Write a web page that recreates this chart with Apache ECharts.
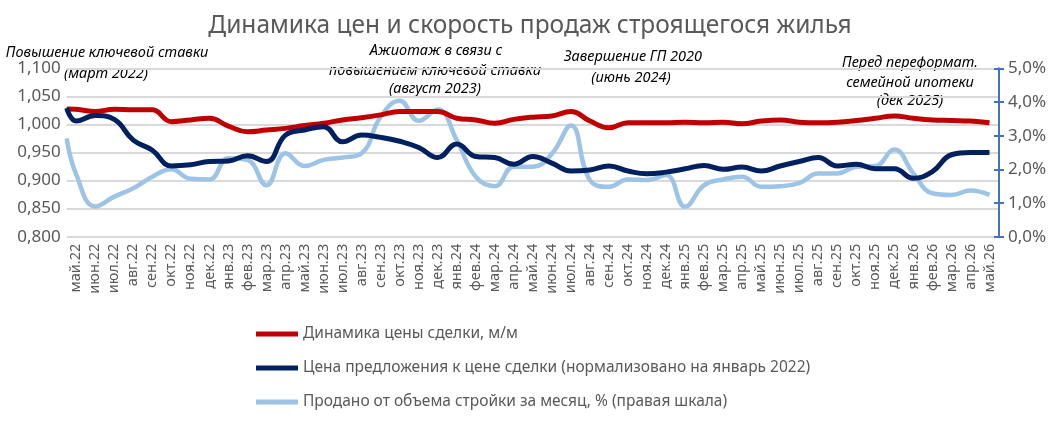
<!DOCTYPE html>
<html>
<head>
<meta charset="utf-8">
<script src="https://cdn.jsdelivr.net/npm/echarts@6/dist/echarts.min.js"></script>
<style>
  html, body { margin: 0; padding: 0; background: #fff; }
  #chart { width: 1060px; height: 421px; }
</style>
</head>
<body>
<div id="chart"></div>
<script>
// months on the category axis
var months = ['май.22','июн.22','июл.22','авг.22','сен.22','окт.22','ноя.22','дек.22',
  'янв.23','фев.23','мар.23','апр.23','май.23','июн.23','июл.23','авг.23','сен.23','окт.23','ноя.23','дек.23',
  'янв.24','фев.24','мар.24','апр.24','май.24','июн.24','июл.24','авг.24','сен.24','окт.24','ноя.24','дек.24',
  'янв.25','фев.25','мар.25','апр.25','май.25','июн.25','июл.25','авг.25','сен.25','окт.25','ноя.25','дек.25',
  'янв.26','фев.26','мар.26','апр.26','май.26'];

// Динамика цены сделки, м/м (left axis)
var dealPrice = [1.027,1.023,1.027,1.026,1.026,1.005,1.008,1.011,
  0.997,0.987,0.990,0.993,0.998,1.002,1.008,1.012,1.017,1.023,1.023,1.023,
  1.011,1.008,1.002,1.009,1.013,1.015,1.023,1.006,0.994,1.003,1.003,1.003,
  1.004,1.003,1.004,1.001,1.006,1.008,1.004,1.003,1.004,1.007,1.011,1.015,
  1.011,1.008,1.007,1.006,1.003];

// Цена предложения к цене сделки (left axis)
var offerToDeal = [1.006,1.016,1.009,0.972,0.954,0.926,0.928,0.934,
  0.935,0.944,0.934,0.981,0.990,0.996,0.969,0.981,0.977,0.970,0.959,0.941,
  0.965,0.943,0.941,0.929,0.943,0.931,0.917,0.919,0.926,0.917,0.912,0.915,
  0.921,0.927,0.920,0.924,0.917,0.926,0.934,0.941,0.926,0.929,0.921,0.921,
  0.904,0.916,0.946,0.950,0.950];

// Продано от объема стройки за месяц, % (right axis)
var soldShare = [1.85,0.90,1.19,1.44,1.78,2.00,1.72,1.70,
  2.33,2.28,1.53,2.48,2.10,2.28,2.35,2.48,3.56,4.04,3.44,3.78,
  2.87,1.78,1.50,2.08,2.08,2.46,3.30,1.68,1.48,1.70,1.68,1.83,
  0.89,1.53,1.70,1.78,1.48,1.50,1.59,1.88,1.88,2.08,2.10,2.59,
  1.88,1.29,1.24,1.37,1.24];

// values where the lines meet the left edge of the plot (dealPrice, offerToDeal, soldShare)
var leftEdge = [1.0275, 1.029, 2.92];

var seriesNames = ['Динамика цены сделки, м/м',
  'Цена предложения к цене сделки (нормализовано на январь 2022)',
  'Продано от объема стройки за месяц, % (правая шкала)'];

var notes = [
  { lines: ['Повышение ключевой ставки', '(март 2022)'], x: [107, 106], y: [53, 74] },
  { lines: ['Ажиотаж в связи с', 'повышением ключевой ставки', '(август 2023)'], x: [436, 435, 435], y: [51, 71, 89] },
  { lines: ['Завершение ГП 2020', '(июнь 2024)'], x: [633, 631], y: [57, 78] },
  { lines: ['Перед переформат.', 'семейной ипотеки', '(дек 2025)'], x: [910, 910, 910], y: [63, 83, 101] }
];

function pairs(edge, arr) {
  var out = [[-0.5, edge]];
  arr.forEach(function (v, i) { out.push([i, v]); });
  return out;
}

var graphics = [];
notes.forEach(function (n) {
  n.lines.forEach(function (t, k) {
    graphics.push({
      type: 'text', x: n.x[k], y: n.y[k],
      style: { text: t, fill: '#000', fontFamily: 'Noto Sans', fontStyle: 'italic',
        fontSize: 14.5, align: 'center', verticalAlign: 'middle' }
    });
  });
});

var chart = echarts.init(document.getElementById('chart'));
chart.setOption({
  animation: false,
  title: {
    text: 'Динамика цен и скорость продаж строящегося жилья',
    left: 'center', top: 9,
    textStyle: { fontFamily: 'Noto Sans', fontSize: 24.5, fontWeight: 'normal', color: '#595959' }
  },
  legend: {
    orient: 'vertical', left: 251, top: 320, itemGap: 16,
    itemWidth: 42, itemHeight: 5, icon: 'rect',
    textStyle: { fontFamily: 'Noto Sans', fontSize: 15.5, color: '#595959', lineHeight: 18 },
    data: seriesNames
  },
  grid: { left: 66.7, right: 61, top: 68.3, height: 168.4 },
  xAxis: [{
    type: 'category', data: months, boundaryGap: true,
    axisLine: { show: false }, axisTick: { show: false },
    axisLabel: { rotate: 90, interval: 0, fontFamily: 'Noto Sans', fontSize: 14.5, color: '#595959', margin: 7 }
  }, {
    type: 'value', min: -0.5, max: 48.5, show: false
  }],
  yAxis: [{
    type: 'value', min: 0.8, max: 1.1, interval: 0.05,
    axisLine: { show: false }, axisTick: { show: false },
    axisLabel: { fontFamily: 'Noto Sans', fontSize: 17, color: '#595959', margin: 6,
      formatter: function (v) { return v.toFixed(3).replace('.', ','); } },
    splitLine: { lineStyle: { color: '#D9D9D9', width: 2 } }
  }, {
    type: 'value', position: 'right', min: 0, max: 5, interval: 1,
    axisLine: { show: true, lineStyle: { color: '#4472C4', width: 2 } },
    axisTick: { show: true, length: 5, lineStyle: { color: '#4472C4', width: 2 } },
    axisLabel: { fontFamily: 'Noto Sans', fontSize: 17, color: '#595959', margin: 9,
      formatter: function (v) { return v.toFixed(1).replace('.', ',') + '%'; } },
    splitLine: { show: false }
  }, {
    type: 'value', position: 'right', min: 0, max: 5, interval: 1,
    axisLine: { show: false },
    axisTick: { show: true, inside: true, length: 5, lineStyle: { color: '#4472C4', width: 2 } },
    axisLabel: { show: false }, splitLine: { show: false }
  }],
  series: [{
    name: seriesNames[0], type: 'line', xAxisIndex: 1, yAxisIndex: 0,
    data: pairs(leftEdge[0], dealPrice), smooth: 0.45, showSymbol: false,
    itemStyle: { color: '#C00000' }, lineStyle: { color: '#C00000', width: 5 }, z: 3
  }, {
    name: seriesNames[1], type: 'line', xAxisIndex: 1, yAxisIndex: 0,
    data: pairs(leftEdge[1], offerToDeal), smooth: 0.45, showSymbol: false,
    itemStyle: { color: '#002060' }, lineStyle: { color: '#002060', width: 5 }, z: 4
  }, {
    name: seriesNames[2], type: 'line', xAxisIndex: 1, yAxisIndex: 1,
    data: pairs(leftEdge[2], soldShare), smooth: 0.45, showSymbol: false,
    itemStyle: { color: '#9DC3E6' }, lineStyle: { color: '#9DC3E6', width: 4.5 }, z: 2
  }],
  graphic: graphics
});
</script>
</body>
</html>
